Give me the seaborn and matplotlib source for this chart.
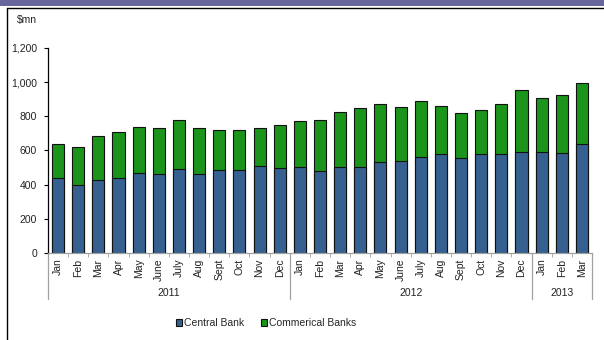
import pandas as pd
import matplotlib
matplotlib.use("Agg")
import matplotlib.pyplot as plt
import seaborn as sns
from matplotlib.patches import Patch, Rectangle
from matplotlib.lines import Line2D

months = ['Jan', 'Feb', 'Mar', 'Apr', 'May', 'June', 'July', 'Aug', 'Sept', 'Oct', 'Nov', 'Dec',
          'Jan', 'Feb', 'Mar', 'Apr', 'May', 'June', 'July', 'Aug', 'Sept', 'Oct', 'Nov', 'Dec',
          'Jan', 'Feb', 'Mar']
years = ['2011', '2012', '2013']
year_lengths = [12, 12, 3]

central_bank = [439, 400, 426, 436, 469, 463, 494, 465, 483, 488, 510, 498,
                504, 477, 502, 502, 531, 541, 561, 582, 557, 582, 582, 590,
                590, 586, 637]
commercial_banks = [199, 223, 256, 273, 269, 266, 285, 267, 238, 233, 222, 252,
                    266, 299, 322, 348, 340, 316, 326, 279, 260, 254, 289, 361,
                    318, 336, 355]

blue = '#36608F'
green = '#1A941A'

df = pd.DataFrame({'pos': range(len(months)), 'month': months,
                   'central': central_bank, 'commercial': commercial_banks})
df['total'] = df['central'] + df['commercial']

sns.set_style("white")
plt.rcParams['font.family'] = ['Liberation Sans', 'DejaVu Sans']

fig = plt.figure(figsize=(6.04, 3.4), dpi=100)
ax = fig.add_axes([48 / 604, 1 - 253 / 340, 544 / 604, (253 - 47.9) / 340])

# stacked look: total in green, central bank drawn over it in blue
sns.barplot(data=df, x='pos', y='total', color=green, saturation=1, width=0.6,
            edgecolor='#111111', linewidth=0.8, ax=ax)
sns.barplot(data=df, x='pos', y='central', color=blue, saturation=1, width=0.6,
            edgecolor='#111111', linewidth=0.8, ax=ax)

ax.set_xlim(-0.5, len(months) - 0.5)
ax.set_ylim(0, 1200)
ax.set_yticks(range(0, 1201, 200))
ax.set_yticklabels([f'{v:,}' for v in range(0, 1201, 200)], fontsize=7.5, color='#222222')
ax.tick_params(axis='y', length=3, width=0.8, color='black', pad=5, left=True)
ax.set_xlabel('')
ax.set_ylabel('')

ax.set_xticks(range(len(months)))
ax.set_xticklabels(months, rotation=90, fontsize=7.5, color='#222222')
ax.tick_params(axis='x', length=0, pad=4)
ax.set_xticks([i - 0.5 for i in range(len(months) + 1)], minor=True)
ax.tick_params(axis='x', which='minor', length=3, color='#A0A0A0', bottom=True)

for s in ['top', 'right']:
    ax.spines[s].set_visible(False)
ax.spines['left'].set_color('black')
ax.spines['left'].set_linewidth(0.9)
ax.spines['bottom'].set_color('#A0A0A0')
ax.spines['bottom'].set_linewidth(0.9)

# year group separators and labels below the axis
trans = ax.get_xaxis_transform()
sep_depth = (299 - 253) / (253 - 47.9)
start = 0
bounds = [-0.5]
for yr, n in zip(years, year_lengths):
    ax.text(start + (n - 1) / 2, -(293 - 253) / (253 - 47.9), yr, transform=trans,
            ha='center', va='center', fontsize=7.5, color='#222222')
    start += n
    bounds.append(start - 0.5)
for b in bounds:
    ax.add_line(Line2D([b, b], [0, -sep_depth], transform=trans, color='#A0A0A0',
                       linewidth=0.9, clip_on=False))

fig.text(17 / 604, 1 - 20 / 340, '$mn', fontsize=7.5, va='center', color='#222222')

# banner and frame
fig.patches.append(Rectangle((0, 1 - 6 / 340), 1, 6 / 340, transform=fig.transFigure,
                             facecolor='#67679B', edgecolor='none'))
fig.lines.append(Line2D([7.5 / 604, 1], [1 - 7.5 / 340, 1 - 7.5 / 340],
                        transform=fig.transFigure, color='black', linewidth=1))
fig.lines.append(Line2D([7.5 / 604, 7.5 / 604], [0, 1 - 7.5 / 340],
                        transform=fig.transFigure, color='black', linewidth=1))

handles = [Patch(facecolor=blue, edgecolor='#111111', linewidth=0.8, label='Central Bank'),
           Patch(facecolor=green, edgecolor='#111111', linewidth=0.8, label='Commerical Banks')]
fig.legend(handles=handles, loc='center', bbox_to_anchor=(266 / 604, 1 - 323 / 340), ncol=2,
           frameon=False, fontsize=7.5, handlelength=0.6, handleheight=0.6,
           handletextpad=0.2, columnspacing=1.6)

fig.savefig('out.png', dpi=100)
